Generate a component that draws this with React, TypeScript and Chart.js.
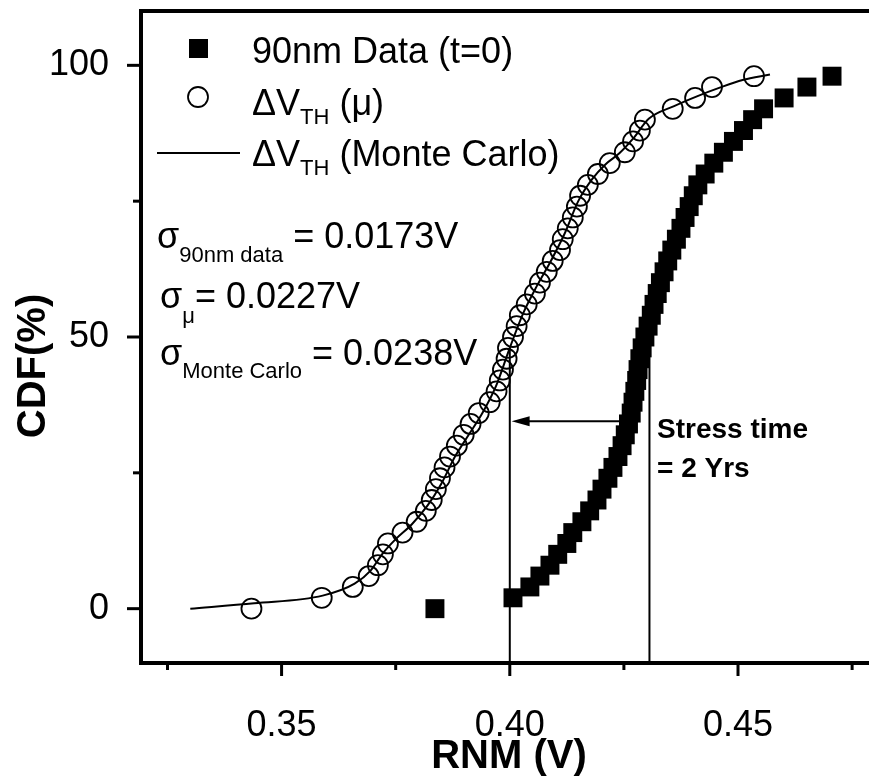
import React, { useEffect, useRef } from "react";
import { Chart, registerables } from "chart.js";

Chart.register(...registerables);

const FONT = "'Liberation Sans', Arial, Helvetica, sans-serif";

// CDF levels (%) shared by both measured series
const cdfLevels = [
  0, 2, 4, 6, 8, 10, 12, 14, 16, 18, 20, 22, 24, 26, 28, 30, 32, 34, 36, 38,
  40, 42, 44, 46, 48, 50, 52, 54, 56, 58, 60, 62, 64, 66, 68, 70, 72, 74, 76, 78,
  80, 82, 84, 86, 88, 90, 92, 94, 96, 98,
];

// 90nm Data (t=0) – RNM (V)
const rnm90nmData = [
  0.3836, 0.4007, 0.4044, 0.4066, 0.4088, 0.4105, 0.4125, 0.4138, 0.4158, 0.4175,
  0.4191, 0.4202, 0.4215, 0.4226, 0.4237, 0.4246, 0.4253, 0.426, 0.4266, 0.427,
  0.4274, 0.4278, 0.4281, 0.4285, 0.429, 0.4296, 0.4303, 0.431, 0.4316, 0.4323,
  0.433, 0.4338, 0.4346, 0.4355, 0.4365, 0.4375, 0.4384, 0.4393, 0.4402, 0.4412,
  0.4428, 0.4447, 0.4468, 0.449, 0.4512, 0.4532, 0.4556, 0.4601, 0.4651, 0.4706,
];

// ΔVTH (μ) – RNM (V)
const rnmMu = [
  0.3434, 0.3588, 0.3656, 0.3691, 0.3711, 0.3722, 0.3733, 0.3765, 0.3796, 0.3816,
  0.3829, 0.3838, 0.3847, 0.3857, 0.3869, 0.3884, 0.3899, 0.3914, 0.3932, 0.3956,
  0.3971, 0.3978, 0.3985, 0.3993, 0.3996, 0.4007, 0.4015, 0.4022, 0.4037, 0.4055,
  0.4066, 0.4081, 0.4094, 0.411, 0.4116, 0.4127, 0.4138, 0.4147, 0.4154, 0.4171,
  0.4193, 0.4219, 0.4252, 0.427, 0.4285, 0.4296, 0.4357, 0.4406, 0.4443, 0.4535,
];

// ΔVTH (Monte Carlo) curve
const monteCarloX = [
  0.33, 0.344, 0.359, 0.366, 0.3695, 0.372, 0.375, 0.3785, 0.382, 0.385, 0.388,
  0.391, 0.394, 0.397, 0.4, 0.403, 0.406, 0.409, 0.412, 0.415, 0.418, 0.421, 0.424,
  0.427, 0.4305, 0.436, 0.441, 0.446, 0.451, 0.457,
];
const monteCarloCdf = [
  0, 1, 2.4, 4.6, 7, 10, 12.8, 15.5, 19, 23, 28, 32, 36, 41, 48, 54.5, 59.5, 64,
  69, 75, 79, 81.8, 83.8, 86.5, 90.2, 92.5, 94.3, 95.9, 97.3, 98.3,
];

const xMajorTicks = [0.35, 0.4, 0.45];
const xMinorTicks = [0.325, 0.375, 0.425, 0.475];
const yMajorTicks = [0, 50, 100];
const yMinorTicks = [25, 75];
const xRange = [0.3192, 0.4787];
const yRange = [-10, 110];

const guideLinesX = [0.4, 0.4306];
const guideLineCdf = [-10, 48];
const arrowCdf = 34.5;
const arrowFromX = 0.428;
const arrowToX = 0.4004;

const seriesNames = ["90nm Data (t=0)", "ΔVTH (μ)", "ΔVTH (Monte Carlo)"];

type Part = { t: string; size: number; dy?: number; bold?: boolean };

function drawRich(ctx: CanvasRenderingContext2D, x: number, y: number, parts: Part[]) {
  let cx = x;
  for (const p of parts) {
    ctx.font = `${p.bold ? "bold " : ""}${p.size}px ${FONT}`;
    ctx.fillText(p.t, cx, y + (p.dy || 0));
    cx += ctx.measureText(p.t).width;
  }
}

const decorations = {
  id: "decorations",
  afterDraw(chart: any) {
    const { ctx, chartArea: a, scales } = chart;
    const xs = scales.x;
    const ys = scales.y;
    ctx.save();
    ctx.fillStyle = "#000";
    ctx.strokeStyle = "#000";
    ctx.lineJoin = "miter";
    ctx.lineCap = "butt";

    // frame (left, top, bottom; right side falls outside the picture)
    ctx.lineWidth = 4;
    ctx.beginPath();
    ctx.moveTo(chart.width + 10, a.top);
    ctx.lineTo(a.left, a.top);
    ctx.lineTo(a.left, a.bottom);
    ctx.lineTo(chart.width + 10, a.bottom);
    ctx.stroke();

    // ticks
    ctx.lineWidth = 3;
    const seg = (x1: number, y1: number, x2: number, y2: number) => {
      ctx.beginPath();
      ctx.moveTo(x1, y1);
      ctx.lineTo(x2, y2);
      ctx.stroke();
    };
    xMajorTicks.forEach((v) => { const p = xs.getPixelForValue(v); seg(p, a.bottom, p, a.bottom + 13); });
    xMinorTicks.forEach((v) => { const p = xs.getPixelForValue(v); seg(p, a.bottom, p, a.bottom + 7); });
    yMajorTicks.forEach((v) => { const p = ys.getPixelForValue(v); seg(a.left - 14, p, a.left, p); });
    yMinorTicks.forEach((v) => { const p = ys.getPixelForValue(v); seg(a.left - 8, p, a.left, p); });

    // arrow
    const ay = ys.getPixelForValue(arrowCdf);
    const ax1 = xs.getPixelForValue(arrowFromX);
    const ax2 = xs.getPixelForValue(arrowToX);
    ctx.lineWidth = 2;
    seg(ax1, ay, ax2 + 14, ay);
    ctx.beginPath();
    ctx.moveTo(ax2, ay);
    ctx.lineTo(ax2 + 18, ay - 5);
    ctx.lineTo(ax2 + 18, ay + 5);
    ctx.closePath();
    ctx.fill();

    // legend
    ctx.textAlign = "left";
    ctx.textBaseline = "alphabetic";
    ctx.fillRect(189, 39, 19, 19);
    ctx.lineWidth = 1.8;
    ctx.beginPath();
    ctx.arc(198, 97, 10, 0, Math.PI * 2);
    ctx.stroke();
    ctx.lineWidth = 2;
    seg(157, 153, 240, 153);

    drawRich(ctx, 252, 63, [{ t: seriesNames[0], size: 36 }]);
    drawRich(ctx, 252, 115, [
      { t: "ΔV", size: 36 },
      { t: "TH", size: 22, dy: 9 },
      { t: " (μ)", size: 36 },
    ]);
    drawRich(ctx, 252, 166, [
      { t: "ΔV", size: 36 },
      { t: "TH", size: 22, dy: 9 },
      { t: " (Monte Carlo)", size: 36 },
    ]);

    // sigma annotations
    drawRich(ctx, 157, 248, [
      { t: "σ", size: 36 },
      { t: "90nm data", size: 22, dy: 14 },
      { t: " = 0.0173V", size: 36 },
    ]);
    drawRich(ctx, 160, 308, [
      { t: "σ", size: 36 },
      { t: "μ", size: 22, dy: 15 },
      { t: "= 0.0227V", size: 36 },
    ]);
    drawRich(ctx, 160, 365, [
      { t: "σ", size: 36 },
      { t: "Monte Carlo", size: 22, dy: 13 },
      { t: " = 0.0238V", size: 36 },
    ]);

    // stress annotation
    drawRich(ctx, 657, 438, [{ t: "Stress time", size: 28, bold: true }]);
    drawRich(ctx, 657, 477, [{ t: "= 2 Yrs", size: 28, bold: true }]);

    // axis titles
    ctx.font = `bold 40px ${FONT}`;
    ctx.textAlign = "center";
    ctx.textBaseline = "middle";
    ctx.fillText("RNM (V)", 509, 757);
    ctx.save();
    ctx.translate(34, 366);
    ctx.rotate(-Math.PI / 2);
    ctx.fillText("CDF(%)", 0, 0);
    ctx.restore();

    ctx.restore();
  },
};

export default function App() {
  const ref = useRef<HTMLCanvasElement | null>(null);

  useEffect(() => {
    if (!ref.current) return;
    const pts = (xsArr: number[], ysArr: number[]) => xsArr.map((x, i) => ({ x, y: ysArr[i] }));

    const guideDatasets = guideLinesX.map((gx) => ({
      label: "guide",
      data: guideLineCdf.map((c) => ({ x: gx, y: c })),
      showLine: true,
      borderColor: "#000",
      borderWidth: 2,
      pointRadius: 0,
      order: 3,
    }));

    const chart = new Chart(ref.current, {
      type: "scatter",
      data: {
        datasets: [
          {
            label: seriesNames[0],
            data: pts(rnm90nmData, cdfLevels),
            pointStyle: "rect",
            pointRadius: 13.4,
            backgroundColor: "#000",
            borderColor: "#000",
            borderWidth: 0,
            order: 0,
          },
          {
            label: seriesNames[1],
            data: pts(rnmMu, cdfLevels),
            pointStyle: "circle",
            pointRadius: 10,
            backgroundColor: "rgba(0,0,0,0)",
            borderColor: "#000",
            borderWidth: 1.8,
            order: 1,
          },
          {
            label: seriesNames[2],
            data: pts(monteCarloX, monteCarloCdf),
            showLine: true,
            cubicInterpolationMode: "monotone",
            borderColor: "#000",
            borderWidth: 2,
            pointRadius: 0,
            order: 2,
          },
          ...guideDatasets,
        ] as any,
      },
      options: {
        responsive: false,
        animation: false,
        devicePixelRatio: 1,
        layout: { autoPadding: false, padding: { left: 0, right: 0, top: 11, bottom: 0 } },
        plugins: { legend: { display: false }, tooltip: { enabled: false } },
        scales: {
          x: {
            type: "linear",
            min: xRange[0],
            max: xRange[1],
            afterBuildTicks: (s: any) => { s.ticks = xMajorTicks.map((v) => ({ value: v })); },
            afterFit: (s: any) => { s.height = 116; s.paddingLeft = 0; s.paddingRight = 0; },
            ticks: {
              callback: (v: any) => Number(v).toFixed(2),
              font: { family: FONT, size: 36 },
              color: "#000",
              padding: 33,
              autoSkip: false,
              maxRotation: 0,
            },
            grid: { display: false },
            border: { display: false },
          },
          y: {
            type: "linear",
            min: yRange[0],
            max: yRange[1],
            afterBuildTicks: (s: any) => { s.ticks = yMajorTicks.map((v) => ({ value: v })); },
            afterFit: (s: any) => { s.width = 141; s.paddingTop = 0; s.paddingBottom = 0; },
            ticks: {
              callback: (v: any) => String(v),
              font: { family: FONT, size: 36 },
              color: "#000",
              padding: 24,
              autoSkip: false,
            },
            grid: { display: false },
            border: { display: false },
          },
        },
      } as any,
      plugins: [decorations],
    });
    return () => chart.destroy();
  }, []);

  return (
    <div style={{ position: "fixed", left: 0, top: 0, width: 869, height: 779, background: "#fff" }}>
      <canvas ref={ref} width={869} height={779} style={{ display: "block" }} />
    </div>
  );
}
